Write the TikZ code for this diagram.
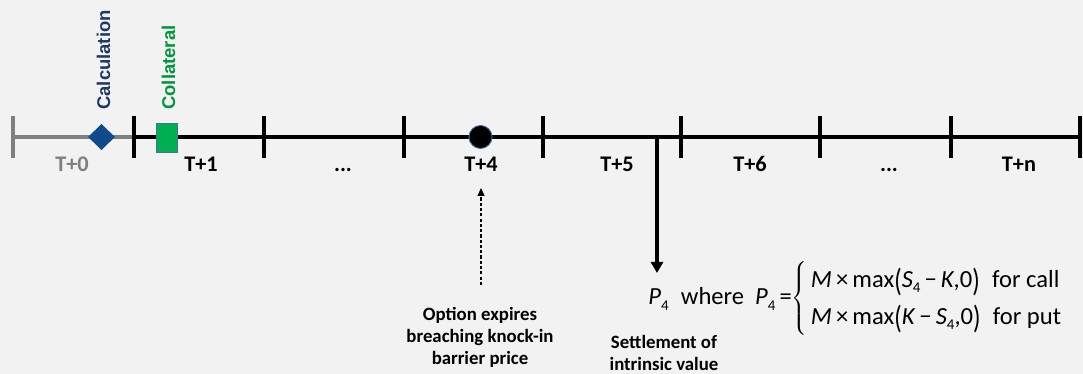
\documentclass[tikz,border=0pt]{standalone}
\usepackage{fontspec}
\usepackage{graphicx}
\setmainfont{Carlito}
\newfontfamily\arialfont{Liberation Sans}
\usetikzlibrary{shapes.geometric,arrows.meta}

\definecolor{bgGray}{HTML}{F2F2F2}
\definecolor{lineGray}{HTML}{7F7F7F}
\definecolor{calcBlue}{HTML}{0E4A8C}
\definecolor{calcText}{HTML}{1F3864}
\definecolor{collGreen}{HTML}{00B050}
\definecolor{collText}{HTML}{00963C}
\definecolor{boxEdge}{HTML}{41719C}

\newcommand{\idx}[1]{\raisebox{-0.45ex}{\fontsize{8.5}{9}\selectfont #1}}
\newcommand{\lp}{\raisebox{-0.14em}{\scalebox{1}[1.3]{(}}}
\newcommand{\rp}{\raisebox{-0.14em}{\scalebox{1}[1.3]{)}}}

\begin{document}
\begin{tikzpicture}[x=0.02cm,y=-0.02cm,
    tick/.style={line width=2.1pt},
    daylabel/.style={font=\fontsize{12.7}{14}\selectfont\bfseries, anchor=base, inner sep=0pt},
    note/.style={font=\fontsize{10.7}{12.5}\selectfont\bfseries, align=center, inner sep=0pt, anchor=north},
    eventlabel/.style={font=\arialfont\bfseries\fontsize{10.5}{12}\selectfont, rotate=90, anchor=base west, inner sep=0pt}]

\fill[bgGray] (0,0) rectangle (1083,374);
\useasboundingbox (0,0) rectangle (1083,374);

% timeline
\coordinate (t0) at (13,137);
\coordinate (t1) at (134,137);
\coordinate (t2) at (264,137);
\coordinate (t3) at (404,137);
\coordinate (t4) at (543,137);
\coordinate (t5) at (681,137);
\coordinate (t6) at (820,137);
\coordinate (t7) at (951,137);
\coordinate (t8) at (1080,137);

\draw[lineGray, line width=2.3pt] (t0)--(t1);
\draw[line width=2.3pt] (t1)--(t8);
\draw[tick, lineGray] (t0) ++(0,-21) -- ++(0,42);
\foreach \t in {t1,t2,t3,t4,t5,t6,t7,t8}
    \draw[tick] (\t) ++(0,-21) -- ++(0,42);

% day labels
\node[daylabel, text=lineGray] (d0) at (72,172) {T+0};
\node[daylabel] (d1) at (201,172) {T+1};
\node[daylabel] (d2) at (343,172) {...};
\node[daylabel] (d4) at (481,172) {T+4};
\node[daylabel] (d5) at (617,172) {T+5};
\node[daylabel] (d6) at (750,172) {T+6};
\node[daylabel] (d7) at (889,172) {...};
\node[daylabel] (dn) at (1019,172) {T+n};

% events
\node[diamond, fill=calcBlue, inner sep=0pt, minimum width=0.54cm, minimum height=0.53cm] (calc) at (101.5,137) {};
\node[rectangle, fill=collGreen, draw=boxEdge, line width=0.4pt, inner sep=0pt, minimum width=0.42cm, minimum height=0.58cm] (coll) at (167,137.5) {};
\node[circle, fill=black, draw=boxEdge, line width=0.5pt, inner sep=0pt, minimum size=0.46cm] (knock) at (480.5,137) {};

\node[eventlabel, text=calcText] (calctext) at (110,110) {Calculation};
\node[eventlabel, text=collText] (colltext) at (175,110) {Collateral};

% knock-in
\node[note] (expire) at (480,307) {Option expires\\breaching knock-in\\barrier price};
\coordinate (expiretail) at (481,285);
\coordinate (expirehead) at (481,188);
\draw[line width=0.6pt, dash pattern=on 1.8pt off 1.2pt, -{Triangle[length=0.16cm,width=0.14cm]}] (expiretail) -- (expirehead);

% settlement
\coordinate (settletop) at (657,137);
\coordinate (settlehead) at (657,273);
\draw[line width=2.3pt, -{Triangle[length=0.22cm,width=0.24cm]}] (settletop) -- (settlehead);

\node[anchor=base west, inner sep=0pt, font=\fontsize{14}{17}\selectfont] (payoff) at (648,305)
    {\renewcommand\arraystretch{1.24}\textit{P}\idx{4}\hspace{0.5em}where\hspace{0.45em}\textit{P}\idx{4}\,=$\left\{\begin{tabular}{@{\hspace{2pt}}l@{}}\textit{M}\,×\,max\lp\textit{S}\idx{4}\,−\,\textit{K},0\rp\hspace{0.5em}for call\\\textit{M}\,×\,max\lp\textit{K}\,−\,\textit{S}\idx{4},0\rp\hspace{0.5em}for put\end{tabular}\right.$};
\node[note] (settle) at (664,335) {Settlement of\\intrinsic value};

\end{tikzpicture}
\end{document}
